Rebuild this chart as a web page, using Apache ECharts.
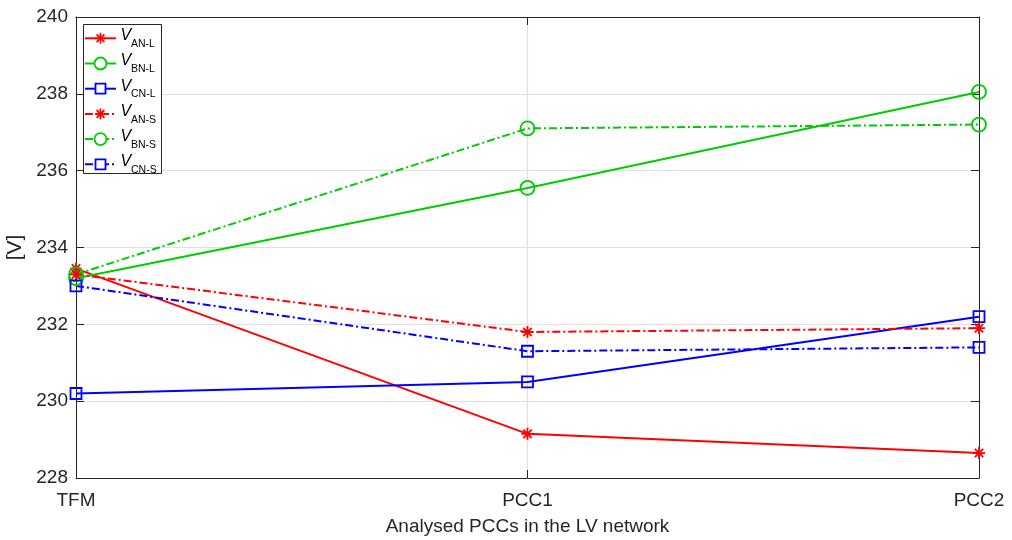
<!DOCTYPE html>
<html><head><meta charset="utf-8">
<script src="https://cdn.jsdelivr.net/npm/echarts@6/dist/echarts.min.js"></script>
<style>html,body{margin:0;padding:0;background:#fff}#c{width:1012px;height:540px}</style>
</head><body><div id="c"></div>
<script>
const categories = ['TFM', 'PCC1', 'PCC2'];
const yTicks = [228, 230, 232, 234, 236, 238, 240];
const vANL = [233.45, 229.15, 228.65];
const vBNL = [233.2, 235.55, 238.05];
const vCNL = [230.2, 230.5, 232.2];
const vANS = [233.3, 231.8, 231.9];
const vBNS = [233.3, 237.1, 237.2];
const vCNS = [233.0, 231.3, 231.4];
const seriesNames = ['AN-L', 'BN-L', 'CN-L', 'AN-S', 'BN-S', 'CN-S'];

const RED = '#ff0000', GREEN = '#00cc00', BLUE = '#0000ff';
const STAR = 'path://M0,-10L0,10M-10,0L10,0M-7,-7L7,7M-7,7L7,-7';
const dashDot = [8, 3, 2, 3];
const FONT = 'Liberation Sans, Arial, Helvetica, sans-serif';
const AX = '#262626';

const seriesDefs = [
  { data: vANL, color: RED, sym: 'star', dashed: false },
  { data: vBNL, color: GREEN, sym: 'circle', dashed: false },
  { data: vCNL, color: BLUE, sym: 'rect', dashed: false },
  { data: vANS, color: RED, sym: 'star', dashed: true },
  { data: vBNS, color: GREEN, sym: 'circle', dashed: true },
  { data: vCNS, color: BLUE, sym: 'rect', dashed: true }
];
const symMap = { star: [STAR, 12], circle: ['circle', 14], rect: ['rect', 11] };

function mk(name, d) {
  return {
    name: name, type: 'line', data: d.data,
    symbol: symMap[d.sym][0], symbolSize: symMap[d.sym][1], showAllSymbol: true,
    lineStyle: { color: d.color, width: 2, type: d.dashed ? dashDot : 'solid' },
    itemStyle: { color: 'none', borderColor: d.color, borderWidth: 1.8 },
    emphasis: { disabled: true },
    animation: false
  };
}

// legend drawn as graphic elements (to get true subscripts)
const LG = { left: 83.5, top: 24.5, right: 161.5, bottom: 173.5, first: 38.3, step: 25.2 };
const legendEls = [{
  type: 'rect', shape: { x: LG.left, y: LG.top, width: LG.right - LG.left, height: LG.bottom - LG.top },
  style: { fill: '#fff', stroke: AX, lineWidth: 1 }, z: 100
}];
seriesDefs.forEach((d, i) => {
  const cy = LG.first + i * LG.step;
  const lineStyle = { stroke: d.color, lineWidth: 2 };
  if (d.dashed) lineStyle.lineDash = dashDot;
  legendEls.push({ type: 'line', shape: { x1: 85, y1: cy, x2: 116, y2: cy }, style: lineStyle, z: 101 });
  if (d.sym === 'circle') {
    legendEls.push({ type: 'circle', shape: { cx: 100.5, cy: cy, r: 6 },
      style: { fill: '#fff', stroke: d.color, lineWidth: 1.8 }, z: 102 });
  } else if (d.sym === 'rect') {
    legendEls.push({ type: 'rect', shape: { x: 95.5, y: cy - 5, width: 10, height: 10 },
      style: { fill: '#fff', stroke: d.color, lineWidth: 1.8 }, z: 102 });
  } else {
    const a = 5.5, b = 3.9, cx = 100.5;
    [[0, -a, 0, a], [-a, 0, a, 0], [-b, -b, b, b], [-b, b, b, -b]].forEach(s => {
      legendEls.push({ type: 'line', shape: { x1: cx + s[0], y1: cy + s[1], x2: cx + s[2], y2: cy + s[3] },
        style: { stroke: d.color, lineWidth: 1.8 }, z: 102 });
    });
  }
  legendEls.push({ type: 'text', x: 120.5, y: cy - 2.5, z: 102,
    style: { text: 'V', font: 'italic 16px ' + FONT, fill: '#000', textVerticalAlign: 'middle', verticalAlign: 'middle' } });
  legendEls.push({ type: 'text', x: 131, y: cy + 5.8, z: 102,
    style: { text: seriesNames[i], font: '10.5px ' + FONT, fill: '#000', textVerticalAlign: 'middle', verticalAlign: 'middle' } });
});

const chart = echarts.init(document.getElementById('c'));
chart.setOption({
  animation: false,
  grid: { left: 76, right: 33, top: 17, bottom: 62, containLabel: false, outerBoundsMode: 'none' },
  legend: { show: false },
  graphic: legendEls,
  xAxis: [{
    type: 'category', data: categories, boundaryGap: false,
    name: 'Analysed PCCs in the LV network', nameLocation: 'middle', nameGap: 39,
    nameTextStyle: { fontFamily: FONT, fontSize: 19, color: AX },
    axisLine: { lineStyle: { color: AX, width: 1 } },
    axisTick: { inside: true, length: 8, lineStyle: { color: AX } },
    axisLabel: { fontFamily: FONT, fontSize: 19, color: AX, margin: 13 },
    splitLine: { show: true, lineStyle: { color: '#e0e0e0', width: 1.2 } }
  }, {
    type: 'category', data: categories, boundaryGap: false, position: 'top',
    axisLine: { lineStyle: { color: AX, width: 1 } },
    axisTick: { inside: true, length: 8, lineStyle: { color: AX } },
    axisLabel: { show: false }, splitLine: { show: false }
  }],
  yAxis: [{
    type: 'value', min: 228, max: 240, interval: 2,
    name: '[V]', nameLocation: 'middle', nameGap: 43, nameRotate: 90,
    nameTextStyle: { fontFamily: FONT, fontSize: 21, color: AX },
    axisLine: { show: true, lineStyle: { color: AX, width: 1 } },
    axisTick: { show: true, inside: true, length: 8, lineStyle: { color: AX } },
    axisLabel: { fontFamily: FONT, fontSize: 19, color: AX, margin: 8,
      formatter: v => yTicks.includes(v) ? String(v) : '' },
    splitLine: { show: true, lineStyle: { color: '#e0e0e0', width: 1.2 } }
  }, {
    type: 'value', min: 228, max: 240, interval: 2, position: 'right',
    axisLine: { show: true, lineStyle: { color: AX, width: 1 } },
    axisTick: { show: true, inside: true, length: 8, lineStyle: { color: AX } },
    axisLabel: { show: false }, splitLine: { show: false }
  }],
  series: seriesDefs.map((d, i) => mk(seriesNames[i], d))
});
</script></body></html>
